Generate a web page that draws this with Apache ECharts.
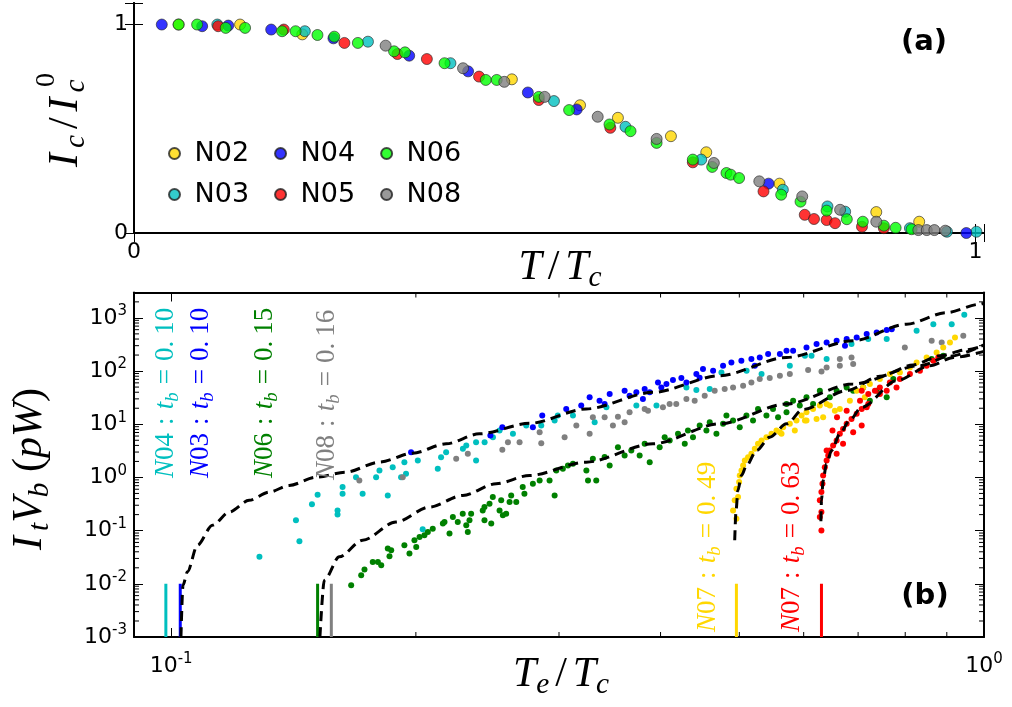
<!DOCTYPE html>
<html><head><meta charset="utf-8">
<script src="https://cdn.jsdelivr.net/npm/echarts@6.0.0/dist/echarts.min.js"></script>
<style>html,body{margin:0;padding:0;background:#fff}#c{width:1012px;height:707px}</style>
</head><body><div id="c"></div>
<script>
// ---------- panel (a): Ic/Ic0 vs T/Tc ----------
const topN02 = [[0.053,0.997],[0.126,0.997],[0.2,0.95],[0.449,0.735],[0.53,0.611],[0.575,0.551],[0.638,0.463],[0.68,0.386],[0.767,0.236],[0.882,0.1],[0.933,0.054]];
const topN03 = [[0.099,0.997],[0.203,0.965],[0.278,0.915],[0.376,0.812],[0.499,0.631],[0.584,0.508],[0.674,0.351],[0.771,0.207],[0.824,0.127],[0.845,0.102],[0.922,0.023],[0.966,0.006],[1.001,0.006]];
const topN04 = [[0.033,0.997],[0.081,0.989],[0.112,0.992],[0.163,0.973],[0.237,0.931],[0.327,0.848],[0.397,0.773],[0.468,0.672],[0.526,0.591],[0.754,0.236],[0.989,0.0]];
const topN05 = [[0.1,0.989],[0.178,0.973],[0.25,0.909],[0.313,0.856],[0.348,0.832],[0.41,0.748],[0.481,0.636],[0.566,0.503],[0.664,0.338],[0.748,0.199],[0.797,0.087],[0.808,0.067],[0.823,0.062],[0.833,0.047],[0.865,0.03],[0.891,0.023]];
const topN06 = [[0.053,0.997],[0.075,0.997],[0.109,0.981],[0.132,0.981],[0.176,0.965],[0.192,0.965],[0.218,0.947],[0.238,0.939],[0.266,0.909],[0.309,0.869],[0.322,0.864],[0.369,0.812],[0.418,0.732],[0.431,0.732],[0.481,0.651],[0.517,0.588],[0.565,0.519],[0.59,0.487],[0.621,0.431],[0.664,0.351],[0.687,0.316],[0.704,0.287],[0.709,0.279],[0.719,0.263],[0.769,0.183],[0.792,0.15],[0.823,0.107],[0.847,0.066],[0.866,0.054],[0.891,0.035],[0.905,0.025],[0.924,0.018]];
const topN08 = [[0.299,0.896],[0.391,0.788],[0.44,0.723],[0.488,0.651],[0.551,0.556],[0.621,0.45],[0.689,0.335],[0.743,0.247],[0.794,0.175],[0.839,0.111],[0.882,0.054],[0.932,0.014],[0.942,0.014],[0.951,0.014],[0.964,0.011]];
const topTicksX = [0, 1];
const topTicksY = [0, 1];

// ---------- panel (b): It*Vb (pW) vs Te/Tc ----------
const powN04 = [[0.1284,0.0321],[0.1424,0.156],[0.1438,0.063],[0.149,0.312],[0.1514,0.474],[0.1602,0.24],[0.1602,0.202],[0.1625,0.658],[0.1625,0.494],[0.1688,1.01],[0.172,0.494],[0.1787,1.01],[0.1804,1.35],[0.1847,0.46],[0.1873,1.56],[0.1918,1.01],[0.1945,1.17],[0.1936,1.94],[0.2011,2.08],[0.2039,0.106],[0.2128,1.46],[0.2148,2.4],[0.2179,2.98],[0.2285,3.45],[0.2307,3.98],[0.2372,2.08],[0.2372,4.59],[0.243,4.59],[0.2488,5.7],[0.2535,7.6],[0.2633,6.6],[0.2734,9.44],[0.2853,9.44],[0.2963,11.7],[0.299,14.6],[0.3121,14.6],[0.3319,10.9],[0.3431,20.8],[0.3735,22.4],[0.3954,22.4],[0.4304,49.3],[0.4427,44.2],[0.4598,46],[0.4753,94.4],[0.5104,101],[0.5325,88.1],[0.5769,126],[0.6021,194],[0.6135,194],[0.6403,168],[0.6871,321],[0.7203,399],[0.7591,399],[0.8262,571],[0.8663,762],[0.9126,762],[0.9457,1140]];
const powN03 = [[0.1973,2.98],[0.247,6.14],[0.2555,8.77],[0.2786,8.77],[0.2861,14.6],[0.3062,19.4],[0.3195,22.4],[0.3272,32.1],[0.3365,27.8],[0.3414,24.1],[0.3463,37.1],[0.3613,42.8],[0.3664,34.5],[0.3735,39.8],[0.3805,29.9],[0.3824,46],[0.3879,39.8],[0.3971,61.2],[0.4009,49.3],[0.4067,57.1],[0.4143,67.9],[0.4243,74.1],[0.4304,61.2],[0.4427,88.1],[0.4468,75],[0.4511,109],[0.4642,101],[0.4775,126],[0.4889,145],[0.5029,156],[0.5174,168],[0.5224,126],[0.5298,180],[0.5425,209],[0.5609,209],[0.5715,240],[0.5823,240],[0.6048,277],[0.6223,321],[0.6403,344],[0.6587,371],[0.6745,299],[0.6777,399],[0.6972,428],[0.7172,495],[0.7378,531],[0.7591,589],[0.77,614]];
const powN08 = [[0.1704,0.879],[0.1927,1.01],[0.2242,2.24],[0.2317,2.79],[0.2555,3.31],[0.2596,4.59],[0.2683,4.59],[0.284,7.08],[0.2853,4.4],[0.3048,5.7],[0.3151,9.44],[0.3272,6.6],[0.3302,13.5],[0.3414,13.5],[0.3495,9.44],[0.3545,13.9],[0.3613,10.9],[0.3664,16.8],[0.3824,19.4],[0.386,18.0],[0.4027,20.8],[0.4104,24.1],[0.4182,24.1],[0.4304,29.9],[0.4406,27.8],[0.4533,34.5],[0.4663,42.8],[0.4797,46],[0.4912,49.3],[0.5054,53.1],[0.5174,61.2],[0.5298,71],[0.545,74.1],[0.5609,81.9],[0.5769,88.1],[0.6076,105],[0.6311,98.4],[0.6403,117],[0.6647,126],[0.6647,168],[0.6871,180],[0.6903,136],[0.7991,277],[0.8622,371],[0.887,344],[0.943,460]];
const powN06 = [[0.1665,0.00944],[0.1713,0.01456],[0.1729,0.0186],[0.177,0.0258],[0.1796,0.0258],[0.1813,0.0224],[0.1847,0.046],[0.1856,0.033],[0.1865,0.0428],[0.1936,0.0531],[0.1964,0.0371],[0.1992,0.0659],[0.2002,0.0493],[0.2021,0.076],[0.2049,0.0818],[0.2069,0.0942],[0.2098,0.109],[0.2159,0.1355],[0.2169,0.145],[0.22,0.0879],[0.2221,0.18],[0.2252,0.145],[0.2284,0.208],[0.2307,0.126],[0.2317,0.0942],[0.2328,0.156],[0.2339,0.208],[0.2417,0.24],[0.2429,0.277],[0.2429,0.156],[0.2464,0.321],[0.2476,0.1355],[0.2487,0.428],[0.2535,0.24],[0.2547,0.371],[0.2559,0.194],[0.2583,0.208],[0.2608,0.344],[0.262,0.46],[0.2658,0.344],[0.2707,0.658],[0.272,0.494],[0.2786,0.762],[0.284,0.879],[0.2921,0.879],[0.2963,0.46],[0.2977,1.354],[0.3033,1.46],[0.3077,1.68],[0.3121,1.81],[0.3242,1.35],[0.3257,0.879],[0.3302,2.24],[0.3334,0.879],[0.3414,2.41],[0.3463,1.68],[0.3545,3.7],[0.3613,2.59],[0.3682,3.21],[0.377,2.59],[0.3824,4.29],[0.3879,1.94],[0.399,3.7],[0.4047,5.7],[0.4105,4.94],[0.4203,6.6],[0.4284,4.29],[0.4323,7.61],[0.4385,5.7],[0.4469,9.44],[0.4555,7.61],[0.4598,10.9],[0.4686,6.6],[0.4775,10.2],[0.4821,14.6],[0.4912,11.7],[0.5006,8.77],[0.5102,14.6],[0.5198,11.7],[0.5272,19.4],[0.5399,14.6],[0.5501,19.4],[0.558,13.5],[0.5715,16.8],[0.5715,24.1],[0.5823,27.8],[0.5934,22.4],[0.6048,32.1],[0.6162,24.1],[0.6281,42.8],[0.6461,32.1],[0.6587,42.8],[0.6777,49.3],[0.6903,42.8],[0.7101,49.3],[0.7237,27.8],[0.7378,42.8],[0.7591,32.1],[0.7734,71],[0.8622,168],[0.8909,194]];
const powN07a = [[0.4912,0.24],[0.4935,0.371],[0.4959,0.168],[0.4982,0.428],[0.4959,0.614],[0.4997,0.817],[0.5006,1.09],[0.5031,1.35],[0.5054,1.68],[0.5078,2.08],[0.5125,2.4],[0.5174,2.79],[0.5224,3.45],[0.5272,4.29],[0.5325,4.94],[0.5399,5.7],[0.5477,6.6],[0.5555,7.61],[0.5609,7.08],[0.5635,6.6],[0.5661,8.77],[0.5769,10.2],[0.5851,7.61],[0.5879,11.7],[0.5964,14.6],[0.6021,11.7],[0.6048,16.8],[0.6048,11.7],[0.6162,19.4],[0.6223,12.6],[0.6281,22.4],[0.634,13.5],[0.6403,24.1],[0.6461,22.4],[0.6554,18.0],[0.6647,19.4],[0.6839,27.8],[0.6972,42.8],[0.7101,49.3],[0.7134,32.1],[0.7237,57.1],[0.7445,71],[0.7659,88.1],[0.788,94.4],[0.8107,117],[0.8262,145],[0.85,180],[0.8744,224],[0.8909,277],[0.9081,344],[0.9211,428]];
const powN07b = [[0.6309,0.101],[0.6281,0.18],[0.6309,0.224],[0.6281,0.371],[0.6309,0.53],[0.6328,0.762],[0.634,1.09],[0.637,1.56],[0.6403,2.08],[0.6432,2.59],[0.6461,3.21],[0.6403,3.21],[0.6522,3.98],[0.6587,4.94],[0.6587,2.79],[0.6647,6.6],[0.651,7.61],[0.6708,8.18],[0.6708,4.29],[0.6777,10.2],[0.6777,18.0],[0.6594,13.5],[0.6871,12.6],[0.6903,7.08],[0.6972,15.7],[0.7038,27.8],[0.7072,19.4],[0.7072,9.44],[0.7072,42.8],[0.7172,20.8],[0.7205,37.1],[0.7205,24.1],[0.7342,42.8],[0.7445,49.3],[0.7445,37.1],[0.7591,42.8],[0.7659,61.2],[0.7805,49.3],[0.788,71],[0.8107,88.1],[0.834,101],[0.85,126],[0.8663,156],[0.8785,180]];

// fitted curves (dashed)
const fitN03N04 = [[0.1028,0.001],[0.1034,0.00944],[0.1047,0.0168],[0.1077,0.0531],[0.1124,0.126],[0.1179,0.224],[0.1247,0.371],[0.132,0.53],[0.1397,0.708],[0.1508,1.01],[0.164,1.258],[0.1804,1.94],[0.1982,2.86],[0.2179,4.29],[0.2394,6.6],[0.276,10.4],[0.324,19.4],[0.3915,39.8],[0.473,81.9],[0.5715,180],[0.69,371],[0.803,762],[0.8995,1259],[0.989,1807],[1.0,1900]];
const fitN06N08 = [[0.1524,0.001],[0.1543,0.0117],[0.161,0.0321],[0.172,0.0659],[0.189,0.145],[0.2078,0.277],[0.2284,0.46],[0.2511,0.762],[0.276,1.09],[0.324,1.94],[0.3915,4.29],[0.473,10.2],[0.5715,24.1],[0.69,57.1],[0.834,126],[0.907,190],[1.0,310]];
const fitN07a = [[0.4935,0.066],[0.4954,0.24],[0.498,0.571],[0.503,1.09],[0.5104,1.68],[0.525,3.21],[0.545,5.7],[0.5715,10.2],[0.599,19],[0.6775,42.8],[0.7445,80],[0.818,130],[0.8826,194],[0.95,250],[1.0,300]];
const fitN07b = [[0.63,0.15],[0.631,0.371],[0.634,0.879],[0.64,1.81],[0.6494,3.21],[0.6648,6.6],[0.683,11.7],[0.7069,20.8],[0.781,65.9],[0.858,126],[0.917,180],[1.0,235]];

// bath temperatures t_b (vertical markers from 1e-3 to 1e-2)
const tbNames  = ['N04','N03','N06','N08','N07','N07'];
const tbValues = [0.0985, 0.1026, 0.1514, 0.1574, 0.4959, 0.631];
const tbLabels = ['0.10','0.10','0.15','0.16','0.49','0.63'];

// ---------- styling ----------
const colTop = {N02:'#FFD700', N03:'#00BFBF', N04:'#0000FF', N05:'#FF0000', N06:'#00FF00', N08:'#808080'};
const colBot = ['#00BFBF','#0000FF','#008000','#808080','#FFD700','#FF0000'];
const MATH = 'Liberation Serif';
const SANS = 'DejaVu Sans';

function isDecade(v){ const e=Math.log10(v); return Math.abs(e-Math.round(e))<1e-6; }
const logFmt = v => isDecade(v) ? '{b|10}{s|' + Math.round(Math.log10(v)) + '}' : '';
const logRich = { b:{fontFamily:SANS,fontSize:22,color:'#000',lineHeight:28}, s:{fontFamily:SANS,fontSize:15,color:'#000',verticalAlign:'top',lineHeight:16} };

const xMinor = []; for (let m=2;m<=9;m++) xMinor.push(m/10);
const yMinor = []; for (let k=-3;k<=3;k++) for (let m=2;m<=9;m++){ const v=m*Math.pow(10,k); if (v<3000) yMinor.push(+v.toPrecision(3)); }

const axLine = {show:true, lineStyle:{color:'#000', width:2}};
const tickIn = {show:true, inside:true, length:9, lineStyle:{color:'#000', width:1}};

function topSeries(name, data){
  return {type:'scatter', name, xAxisIndex:0, yAxisIndex:0, data, symbolSize:11, clip:false,
    itemStyle:{color:colTop[name], opacity:0.8, borderColor:'#222', borderWidth:0.8}};
}
function botSeries(name, data, color){
  return {type:'scatter', name, xAxisIndex:2, yAxisIndex:2, data, symbolSize:6, z:2,
    itemStyle:{color, opacity:1}};
}
function fitSeries(name, data){
  return {type:'line', name, xAxisIndex:2, yAxisIndex:2, data, symbol:'none', smooth:0.3, smoothMonotone:'x', z:5,
    lineStyle:{color:'#000', width:3, type:[10,6]}};
}

const series = [
  topSeries('N02', topN02), topSeries('N03', topN03), topSeries('N04', topN04),
  topSeries('N05', topN05), topSeries('N06', topN06), topSeries('N08', topN08),
  botSeries('N04 (b)', powN04, colBot[0]), botSeries('N03 (b)', powN03, colBot[1]),
  botSeries('N08 (b)', powN08, colBot[3]), botSeries('N06 (b)', powN06, colBot[2]),
  botSeries('N07 tb=0.49', powN07a, colBot[4]), botSeries('N07 tb=0.63', powN07b, colBot[5]),
  fitSeries('fit N03/N04', fitN03N04), fitSeries('fit N06/N08', fitN06N08),
  fitSeries('fit N07 0.49', fitN07a), fitSeries('fit N07 0.63', fitN07b)
];
tbValues.forEach((v,i)=>{
  series.push({type:'line', name:'tb '+i, xAxisIndex:2, yAxisIndex:2, data:[[v,0.001],[v,0.01]], symbol:'none', z:4,
    lineStyle:{color:colBot[i], width:3}});
});
// minor ticks (matplotlib-style 2..9 per decade) on all four sides of panel (b)
series.push({type:'custom', name:'xminor', xAxisIndex:2, yAxisIndex:2, silent:true, clip:false, z:10,
  data:xMinor.map(v=>[v,1]),
  renderItem:(p,api)=>{ const cs=p.coordSys; const x=api.coord([api.value(0),1])[0]; const t=cs.y, b=cs.y+cs.height;
    return {type:'group', children:[
      {type:'line', shape:{x1:x,y1:b,x2:x,y2:b-5}, style:{stroke:'#000',lineWidth:1}},
      {type:'line', shape:{x1:x,y1:t,x2:x,y2:t+5}, style:{stroke:'#000',lineWidth:1}}]}; }});
series.push({type:'custom', name:'yminor', xAxisIndex:2, yAxisIndex:2, silent:true, clip:false, z:10,
  data:yMinor.map(v=>[0.5,v]),
  renderItem:(p,api)=>{ const cs=p.coordSys; const y=api.coord([0.5,api.value(1)])[1]; const l=cs.x, r=cs.x+cs.width;
    return {type:'group', children:[
      {type:'line', shape:{x1:l,y1:y,x2:l+5,y2:y}, style:{stroke:'#000',lineWidth:1}},
      {type:'line', shape:{x1:r,y1:y,x2:r-5,y2:y}, style:{stroke:'#000',lineWidth:1}}]}; }});

// ---------- text helpers ----------
function mathRich(size, color, pad){
  const lh = size*1.2;
  return {
    i:{fontFamily:MATH, fontStyle:'italic', fontSize:size, fill:color, lineHeight:lh},
    ip:{fontFamily:MATH, fontStyle:'italic', fontSize:size, fill:color, lineHeight:lh, padding:[0,size*0.12,0,0]},
    r:{fontFamily:MATH, fontSize:size, fill:color, lineHeight:lh},
    p:{fontFamily:MATH, fontSize:size, fill:color, lineHeight:lh, padding:[0,size*pad,0,size*pad]},
    r2:{fontFamily:MATH, fontSize:size, fill:color, lineHeight:lh, padding:[0,0,0,size*0.22]},
    s:{fontFamily:MATH, fontStyle:'italic', fontSize:size*0.7, fill:color, verticalAlign:'bottom', lineHeight:size*0.5}
  };
}
const graphics = [];
tbNames.forEach((n,i)=>{
  const pos = [[166,478],[201,478],[265,478],[327,480],[708,632],[792,632]][i];
  const parts = tbLabels[i].split('.');
  graphics.push({type:'text', x:pos[0], y:pos[1], rotation:Math.PI/2, silent:true, z:20,
    style:{text:'{i|N}{r|' + n.slice(1) + '}{p|:}{i|t}{s|b}{p|=}{r|' + parts[0] + '.}{r2|' + parts[1] + '}',
      rich:mathRich(27, colBot[i], 0.3), align:'left', verticalAlign:'middle'}});
});
const bigRich = mathRich(42, '#000', 0.14);
graphics.push({type:'text', x:560, y:268, silent:true, style:{text:'{i|T}{p|/}{i|T}{s|c}', rich:bigRich, align:'center', verticalAlign:'middle'}});
graphics.push({type:'text', x:561, y:675, silent:true, style:{text:'{i|T}{s|e}{p|/}{i|T}{s|c}', rich:bigRich, align:'center', verticalAlign:'middle'}});
graphics.push({type:'text', x:66, y:167, rotation:Math.PI/2, silent:true, style:{text:'{ip|I}{s|c}{p|/}{ip|I}{s|c}', rich:bigRich, align:'left', verticalAlign:'middle'}});
graphics.push({type:'text', x:47, y:80, rotation:Math.PI/2, silent:true, style:{text:'0', font:'28px "Liberation Serif"', fill:'#000', align:'center', verticalAlign:'middle'}});
graphics.push({type:'text', x:30, y:550, rotation:Math.PI/2, silent:true, style:{text:'{ip|I}{s|t}{i|V}{s|b}{r| (}{i|pW}{r|)}', rich:bigRich, align:'left', verticalAlign:'middle'}});
graphics.push({type:'text', x:924, y:42, silent:true, style:{text:'(a)', font:'bold 29px "DejaVu Sans"', fill:'#000', align:'center', verticalAlign:'middle'}});
graphics.push({type:'text', x:925, y:596, silent:true, style:{text:'(b)', font:'bold 29px "DejaVu Sans"', fill:'#000', align:'center', verticalAlign:'middle'}});

const legendBase = {orient:'horizontal', left:168, padding:0, itemWidth:30, itemHeight:11, itemGap:25, icon:'circle',
  textStyle:{fontFamily:SANS, fontSize:27, color:'#000'}, selectedMode:false};

const option = {
  animation:false,
  backgroundColor:'#fff',
  grid:[{left:134, top:3, width:850, height:230}, {left:134, top:292.5, width:850, height:344.5}],
  legend:[Object.assign({}, legendBase, {top:140, data:['N02','N04','N06']}),
          Object.assign({}, legendBase, {top:181, data:['N03','N05','N08']})],
  xAxis:[
    {type:'value', gridIndex:0, position:'bottom', min:0, max:1.01, interval:1, axisLine:axLine, axisTick:tickIn, splitLine:{show:false},
      axisLabel:{formatter:v=>topTicksX.includes(v)?String(v):'', fontFamily:SANS, fontSize:22, color:'#000', margin:8}},
    {type:'value', gridIndex:0, position:'top', min:0, max:1.01, interval:1, axisLine:axLine, axisTick:tickIn, splitLine:{show:false}, axisLabel:{show:false}},
    {type:'log', gridIndex:1, position:'bottom', min:0.09, max:1, axisLine:axLine, axisTick:tickIn, splitLine:{show:false},
      axisLabel:{formatter:logFmt, rich:logRich, margin:15}},
    {type:'log', gridIndex:1, position:'top', min:0.09, max:1, axisLine:axLine, axisTick:tickIn, splitLine:{show:false}, axisLabel:{show:false}}
  ],
  yAxis:[
    {type:'value', gridIndex:0, position:'left', min:0, max:1.1, interval:1, axisLine:axLine, axisTick:tickIn, splitLine:{show:false},
      axisLabel:{formatter:v=>topTicksY.includes(v)?String(v):'', fontFamily:SANS, fontSize:22, color:'#000', margin:6}},
    {type:'value', gridIndex:0, position:'right', min:0, max:1.1, interval:1, axisLine:axLine, axisTick:tickIn, splitLine:{show:false}, axisLabel:{show:false}},
    {type:'log', gridIndex:1, position:'left', min:0.001, max:3000, axisLine:axLine, axisTick:tickIn, splitLine:{show:false},
      axisLabel:{formatter:logFmt, rich:logRich, margin:7}},
    {type:'log', gridIndex:1, position:'right', min:0.001, max:3000, axisLine:axLine, axisTick:tickIn, splitLine:{show:false}, axisLabel:{show:false}}
  ],
  graphic:graphics,
  series
};
const chart = echarts.init(document.getElementById('c'));
chart.setOption(option);
</script></body></html>
